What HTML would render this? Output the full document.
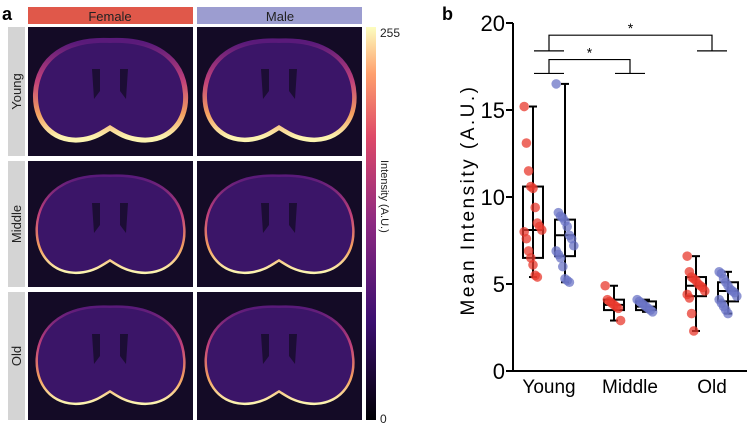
<!DOCTYPE html>
<html><head><meta charset="utf-8"><style>
body{margin:0;background:#fff;width:747px;height:427px;overflow:hidden;font-family:"Liberation Sans",sans-serif;}
svg{position:absolute;left:0;top:0}
</style></head><body>
<svg width="747" height="427">
<defs>
<linearGradient id="cb" x1="0" y1="1" x2="0" y2="0">
<stop offset="0" stop-color="#000004"/><stop offset="0.25" stop-color="#3b0f70"/><stop offset="0.5" stop-color="#8c2981"/><stop offset="0.72" stop-color="#de4968"/><stop offset="0.88" stop-color="#fe9f6d"/><stop offset="1" stop-color="#fcfdbf"/>
</linearGradient>
<linearGradient id="glow" x1="0" y1="0" x2="0" y2="1">
<stop offset="0" stop-color="#5a1a7a"/><stop offset="0.4" stop-color="#c0407a"/><stop offset="0.75" stop-color="#f4a060"/><stop offset="1" stop-color="#fcf3b0"/>
</linearGradient>
<g id="brain">
<path d="M82,14 C40,12 12,30 10,65 C9,95 30,112 55,108 C68,106 75,100 82,96 C89,100 96,106 110,108 C135,112 157,95 155,65 C153,30 124,12 82,14 Z" fill="#3b1568"/>
<path d="M72,40 L64,40 L66,70 L72,62 Z M92,40 L100,40 L98,70 L92,62 Z" fill="#1c0d35"/>
</g>
</defs>
<text x="2" y="20" font-size="18" font-weight="bold">a</text>
<rect x="28" y="7" width="165" height="17" fill="#e0584a"/>
<text x="110" y="21" font-size="13" text-anchor="middle" fill="#222">Female</text>
<rect x="197" y="7" width="165" height="17" fill="#9c9dd0"/>
<text x="280" y="21" font-size="13" text-anchor="middle" fill="#222">Male</text>
<g id="rows"></g>
<rect x="366" y="27" width="10" height="393" fill="url(#cb)"/>
<text x="380" y="37" font-size="12" fill="#222">255</text>
<text x="380" y="423" font-size="12" fill="#222">0</text>
<text transform="translate(381,160) rotate(90)" font-size="11" fill="#222">Intensity (A.U.)</text>
<text x="442" y="20" font-size="18" font-weight="bold">b</text>
<g id="chart"></g>
</svg>
<script>
const NS="http://www.w3.org/2000/svg";
function mk(t,a,p){const e=document.createElementNS(NS,t);for(const k in a)e.setAttribute(k,a[k]);p.appendChild(e);return e;}
const rowNames=["Young","Middle","Old"];
const rowY=[27,161,292];
const rowH=[129,126,128];
const glowW=[[10,9],[5,5],[5,5]];
const rows=document.getElementById('rows');
rowNames.forEach((n,i)=>{
  const y=rowY[i],h=rowH[i];
  const lab=mk('rect',{x:8,y:y,width:17,height:h,fill:'#d4d4d4'},rows);
  
  
  const t=mk('text',{transform:`translate(21,${y+h/2}) rotate(-90)`,'font-size':13,'text-anchor':'middle',fill:'#222'},rows);t.textContent=n;
  [28,197].forEach((x,j)=>{
    const bg=mk('rect',{x:x,y:y,width:165,height:h,fill:'#140b26'},rows);
    
    
    const g=mk('g',{transform:`translate(${x},${y+2})`},rows);
    mk('path',{d:"M82,14 C40,12 12,30 10,65 C9,95 30,112 55,108 C68,106 75,100 82,96 C89,100 96,106 110,108 C135,112 157,95 155,65 C153,30 124,12 82,14 Z",fill:'none',stroke:'url(#glow)','stroke-width':glowW[i][j]},g);
    mk('use',{href:'#brain'},g);
  });
});
const groups=["Young","Middle","Old"];
const femaleVals=[
 [15.2,13.1,11.5,10.6,10.5,9.4,8.5,8.3,8.1,8.0,7.6,6.9,6.5,6.1,5.5,5.4],
 [4.9,4.1,4.0,3.9,3.8,3.7,3.6,2.9],
 [6.6,5.7,5.4,5.3,5.2,5.0,4.9,4.8,4.6,4.4,4.2,3.3,2.3]];
const maleVals=[
 [16.5,9.1,8.9,8.8,8.6,8.3,7.8,7.6,7.2,6.9,6.7,6.5,6.0,5.3,5.2,5.1],
 [4.1,4.0,3.9,3.8,3.7,3.6,3.5,3.4],
 [5.7,5.6,5.3,5.1,4.9,4.7,4.6,4.5,4.3,4.1,3.9,3.7,3.5,3.3]];
const femaleBox=[[5.4,6.5,8.1,10.6,15.2],[2.9,3.5,3.8,4.1,4.9],[2.3,4.3,4.9,5.4,6.6]];
const maleBox=[[5.1,6.6,7.8,8.7,16.5],[3.4,3.5,3.7,4.0,4.1],[3.3,4.0,4.6,5.1,5.7]];
const yTicks=[0,5,10,15,20];
const ch=document.getElementById('chart');
const Y=v=>371-v*17.4;
const groupX=[549,630,712];
const X=(g,s)=>groupX[g]+(s?16:-16);
mk('line',{x1:513,y1:Y(0),x2:747,y2:Y(0),stroke:'#000','stroke-width':2},ch);
mk('line',{x1:513,y1:Y(0),x2:513,y2:Y(20),stroke:'#000','stroke-width':2},ch);
yTicks.forEach(v=>{
  mk('line',{x1:506,y1:Y(v),x2:513,y2:Y(v),stroke:'#000','stroke-width':2},ch);
  const t=mk('text',{x:505,y:Y(v)+8,'font-size':22,'text-anchor':'end'},ch);t.textContent=v;
  
});
const yt=mk('text',{transform:'translate(474,200) rotate(-90)','font-size':19,'text-anchor':'middle','letter-spacing':'2.5'},ch);
yt.textContent='Mean  Intensity  (A.U.)';

groups.forEach((g,i)=>{
  const t=mk('text',{x:groupX[i],y:393,'font-size':19,'text-anchor':'middle'},ch);t.textContent=g;
  
  [[femaleBox,femaleVals,'#e8392e',0],[maleBox,maleVals,'#6b74c6',1]].forEach(([B,V,c,s])=>{
    const x=X(i,s),b=B[i];
    const gg=mk('g',{},ch);
    
    
    mk('line',{x1:x,y1:Y(b[0]),x2:x,y2:Y(b[4]),stroke:'#000','stroke-width':2},gg);
    mk('line',{x1:x-4,y1:Y(b[0]),x2:x+4,y2:Y(b[0]),stroke:'#000','stroke-width':2},gg);
    mk('line',{x1:x-4,y1:Y(b[4]),x2:x+4,y2:Y(b[4]),stroke:'#000','stroke-width':2},gg);
    mk('rect',{x:x-10,y:Y(b[3]),width:20,height:Y(b[1])-Y(b[3]),fill:'none',stroke:'#000','stroke-width':2},gg);
    mk('line',{x1:x-10,y1:Y(b[2]),x2:x+10,y2:Y(b[2]),stroke:'#000','stroke-width':2},gg);
    V[i].forEach((v,k)=>{
      const dx=((k*37)%9-4)*2.2;
      const p=mk('circle',{cx:x+dx,cy:Y(v),r:4.8,fill:c,'fill-opacity':0.75},gg);
      
    });
  });
});
function bracket(a,b,base,top){
  const g=mk('g',{fill:'none',stroke:'#000','stroke-width':1.2},ch);
  
  const xa=(X(a,0)+X(a,1))/2,xb=(X(b,0)+X(b,1))/2;
  mk('line',{x1:xa-15,y1:Y(base),x2:xa+15,y2:Y(base)},g);
  mk('line',{x1:xb-15,y1:Y(base),x2:xb+15,y2:Y(base)},g);
  mk('polyline',{points:`${xa},${Y(base)} ${xa},${Y(top)} ${xb},${Y(top)} ${xb},${Y(base)}`},g);
  const t=mk('text',{x:(xa+xb)/2,y:Y(top)-2,'font-size':14,'text-anchor':'middle',stroke:'none',fill:'#000'},ch);t.textContent='*';
}
bracket(0,2,18.4,19.3);
bracket(0,1,17.1,17.9);
</script>
</body></html>
